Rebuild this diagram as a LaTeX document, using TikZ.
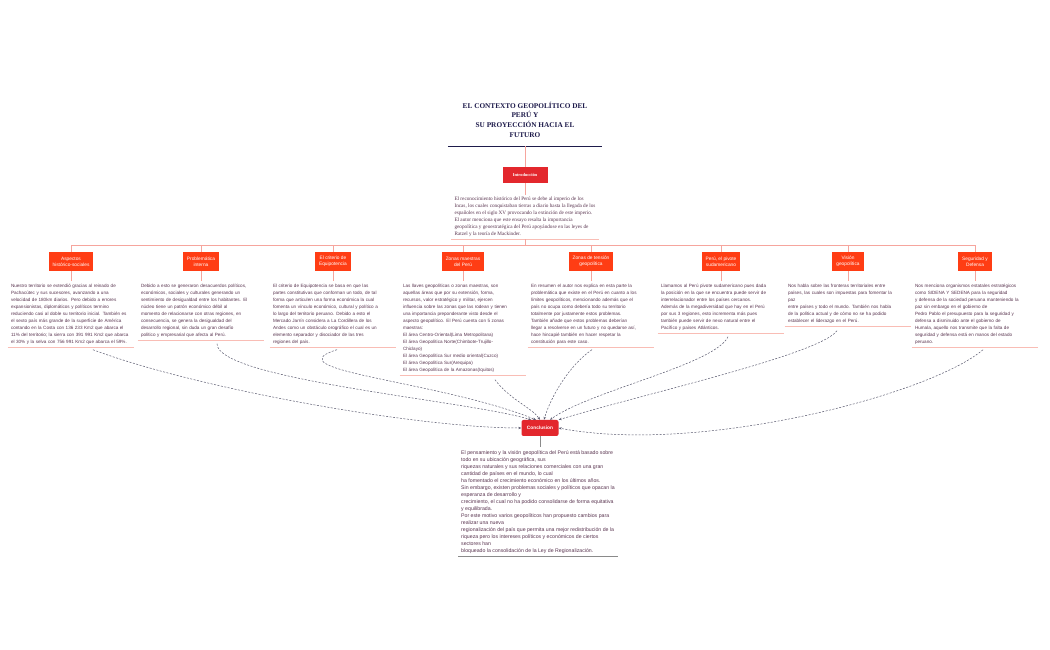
\documentclass[tikz,border=0pt]{standalone}
\usepackage{fontspec}
\setmainfont{Liberation Serif}
\setsansfont{Liberation Sans}
\usepackage{xcolor}
\usepackage{tikz}
\usetikzlibrary{arrows.meta,calc}
\definecolor{geonavy}{HTML}{1E1B4B}
\definecolor{geored}{HTML}{E3272D}
\definecolor{geoorange}{HTML}{FF3D14}
\definecolor{geopink}{HTML}{F6A59D}
\definecolor{georule}{HTML}{F9BDB5}
\definecolor{geotext}{HTML}{5A3550}
\definecolor{geodash}{HTML}{5B5B70}
\definecolor{geogray}{HTML}{8A8A8A}

\tikzset{
  topicbox/.style={fill=geoorange, text=white, align=center, inner xsep=4pt,
    minimum height=19pt, font=\sffamily\fontsize{4.8}{6.2}\selectfont},
  notetext/.style={anchor=north, text width=120pt, align=left, inner xsep=3pt,
    inner ysep=3pt, text=geotext, font=\sffamily\fontsize{4.6}{7}\selectfont},
  busline/.style={geopink, line width=0.6pt},
  noterule/.style={georule, line width=0.9pt},
  link/.style={geodash, dash pattern=on 2pt off 1.5pt, line width=0.5pt,
    -{Stealth[length=3pt,width=2.4pt]}},
}

\begin{document}
\begin{tikzpicture}[x=1pt,y=1pt]
  \fill[white] (0,0) rectangle (1050,650);
  \useasboundingbox (0,0) rectangle (1050,650);

  % title and introduction
  \node[align=center, inner sep=0pt, minimum width=154pt, text=geonavy,
    font=\bfseries\fontsize{7.3}{9.7}\selectfont] (title) at (525,530.5)
    {EL CONTEXTO GEOPOLÍTICO DEL\\PERÚ Y\\SU PROYECCIÓN HACIA EL\\FUTURO};
  \draw[geonavy, line width=1.3pt] ([yshift=-9pt]title.south west) -- ([yshift=-9pt]title.south east);

  \node[fill=geored, text=white, minimum width=45pt, minimum height=16pt, inner sep=0pt,
    font=\bfseries\fontsize{4.4}{5}\selectfont] (intro) at (525,475) {Introducción};
  \draw[busline] ([yshift=-9pt]title.south) -- (intro);

  \node[anchor=north, align=left, inner xsep=3pt, inner ysep=2pt, text=geotext,
    font=\fontsize{5.2}{7}\selectfont] (introTxt) at (525,455)
    {El reconocimiento histórico del Perú se debe al imperio de los\\
     Incas, los cuales conquistaban tierras a diario hasta la llegada de los\\
     españoles en el siglo XV provocando la extinción de este imperio.\\
     El autor menciona que este ensayo resalta la importancia\\
     geopolítica y geoestratégica del Perú apoyándose en las leyes de\\
     Ratzel y la teoría de Mackinder.};
  \draw[busline] (intro) -- (introTxt);
  \draw[noterule] (introTxt.south west) -- (introTxt.south east);

  % topic boxes
  \node[topicbox] (aspBox) at (71,388.5) {Aspectos\\histórico-sociales};
  \node[topicbox] (probBox) at (201,388.5) {Problemática\\interna};
  \node[topicbox] (critBox) at (333,388.5) {El criterio de\\Equipotencia};
  \node[topicbox] (zonBox) at (463,388.5) {Zonas maestras\\del Perú};
  \node[topicbox] (tenBox) at (591,388.5) {Zonas de tensión\\geopolítica};
  \node[topicbox] (pivBox) at (721,388.5) {Perú, el pivote\\sudamericano};
  \node[topicbox] (visBox) at (848,388.5) {Visión\\geopolítica};
  \node[topicbox] (segBox) at (975,388.5) {Seguridad y\\Defensa};

  \draw[busline] (introTxt.south) -- ++(0,-6) coordinate (busMid);
  \draw[busline] (aspBox.north |- busMid) -- (segBox.north |- busMid);
  \foreach \b in {aspBox,probBox,critBox,zonBox,tenBox,pivBox,visBox,segBox}
    \draw[busline] (\b.north |- busMid) -- (\b.north);

  % topic texts
  \node[notetext] (aspTxt) at (71,369)
    {Nuestro territorio se extendió gracias al reinado de\\
     Pachacútec y sus sucesores, avanzando a una\\
     velocidad de 180km diarios. Pero debido a errores\\
     expansionistas, diplomáticos y políticos termino\\
     reduciendo casi al doble su territorio inicial. También es\\
     el sexto país más grande de la superficie de América\\
     contando en la Costa con 136 233 Km2 que abarca el\\
     11\% del territorio; la sierra con 391 991 Km2 que abarca\\
     el 30\% y la selva con 756 991 Km2 que abarca el 59\%.};
  \node[notetext] (probTxt) at (201,369)
    {Debido a esto se generaron desacuerdos políticos,\\
     económicos, sociales y culturales generando un\\
     sentimiento de desigualdad entre los habitantes. El\\
     núcleo tiene un patrón económico débil al\\
     momento de relacionarse con otras regiones, en\\
     consecuencia, se genera la desigualdad del\\
     desarrollo regional, sin duda un gran desafío\\
     político y empresarial que afecta al Perú.};
  \node[notetext] (critTxt) at (333,369)
    {El criterio de Equipotencia se basa en que las\\
     partes constitutivas que conforman un todo, de tal\\
     forma que articulen una forma económica la cual\\
     fomenta un vínculo económico, cultural y político a\\
     lo largo del territorio peruano. Debido a esto el\\
     Mercado Jarrín considera a La Cordillera de los\\
     Andes como un obstáculo orográfico el cual es un\\
     elemento separador y disociador de las tres\\
     regiones del país.};
  \node[notetext] (zonTxt) at (463,369)
    {Las llaves geopolíticas o zonas maestras, son\\
     aquellas áreas que por su extensión, forma,\\
     recursos, valor estratégico y militar, ejercen\\
     influencia sobre las zonas que las rodean y tienen\\
     una importancia preponderante visto desde el\\
     aspecto geopolítico. El Perú cuenta con 5 zonas\\
     maestras:\\
     *El área Centro-Oriental(Lima Metropolitana)\\
     * El área Geopolítica Norte(Chimbote-Trujillo-\\
     Chiclayo)\\
     *El área Geopolítica Sur medio oriental(Cuzco)\\
     *El área Geopolítica Sur(Arequipa)\\
     *El área Geopolítica de la Amazonas(Iquitos)};
  \node[notetext] (tenTxt) at (591,369)
    {En resumen el autor nos explica en esta parte la\\
     problemática que existe en el Perú en cuanto a los\\
     límites geopolíticos, mencionando además que el\\
     país no ocupa como debería todo su territorio\\
     totalmente por justamente estos problemas.\\
     También añade que estos problemas deberían\\
     llegar a resolverse en un futuro y no quedarse así,\\
     hace hincapié también en hacer respetar la\\
     constitución para este caso.};
  \node[notetext] (pivTxt) at (721,369)
    {Llamamos al Perú pivote sudamericano pues dada\\
     la posición en la que se encuentra puede servir de\\
     interrelacionador entre los países cercanos.\\
     Además de la megadiversidad que hay en el Perú\\
     por sus 3 regiones, esto incrementa más pues\\
     también puede servir de nexo natural entre el\\
     Pacífico y países Atlánticos.};
  \node[notetext] (visTxt) at (848,369)
    {Nos habla sobre las fronteras territoriales entre\\
     países, las cuales son impuestas para fomentar la\\
     paz\\
     entre países y todo el mundo. También nos habla\\
     de la política actual y de cómo no se ha podido\\
     establecer el liderazgo en el Perú.};
  \node[notetext] (segTxt) at (975,369)
    {Nos menciona organismos estatales estratégicos\\
     como SIDENA Y SEDENA para la seguridad\\
     y defensa de la sociedad peruana manteniendo la\\
     paz sin embargo en el gobierno de\\
     Pedro Pablo el presupuesto para la seguridad y\\
     defensa a disminuido ante el gobierno de\\
     Humala, aquello nos transmite que la falta de\\
     seguridad y defensa está en manos del estado\\
     peruano.};

  \foreach \t/\b in {aspTxt/aspBox,probTxt/probBox,critTxt/critBox,zonTxt/zonBox,
      tenTxt/tenBox,pivTxt/pivBox,visTxt/visBox,segTxt/segBox} {
    \draw[busline] (\b) -- (\t);
    \draw[noterule] (\t.south west) -- (\t.south east);
  }

  % conclusion
  \node[fill=geored, text=white, rounded corners=2pt, minimum width=37pt, minimum height=16pt,
    inner sep=0pt, font=\sffamily\bfseries\fontsize{4.8}{5}\selectfont] (concl) at (540,222) {Conclusion};
  \node[anchor=north west, align=left, inner xsep=3pt, inner ysep=3pt, text=geotext,
    font=\sffamily\fontsize{5.2}{7}\selectfont] (conclTxt) at (458,203)
    {El pensamiento y la visión geopolítica del Perú está basado sobre\\
     todo en su ubicación geográfica, sus\\
     riquezas naturales y sus relaciones comerciales con una gran\\
     cantidad de países en el mundo, lo cual\\
     ha fomentado el crecimiento económico en los últimos años.\\
     Sin embargo, existen problemas sociales y políticos que opacan la\\
     esperanza de desarrollo y\\
     crecimiento, el cual no ha podido consolidarse de forma equitativa\\
     y equilibrada.\\
     Por este motivo varios geopolíticos han propuesto cambios para\\
     realizar una nueva\\
     regionalización del país que permita una mejor redistribución de la\\
     riqueza pero los intereses políticos y económicos de ciertos\\
     sectores han\\
     bloqueado la consolidación de la Ley de Regionalización.};
  \draw[geogray, line width=0.6pt] (concl) -- (concl.south |- conclTxt.north);
  \draw[geogray, line width=0.7pt] (conclTxt.south west) -- (conclTxt.south east);

  % dashed links into the conclusion
  \draw[link] ([xshift=22pt,yshift=-2pt]aspTxt.south) .. controls +(107,-40) and +(-102,0) .. (concl.west);
  \draw[link] ([xshift=16pt,yshift=-3pt]probTxt.south) .. controls +(0,-36) and +(-61,19) .. ([xshift=-9pt]concl.north);
  \draw[link] ([xshift=4pt,yshift=-2pt]critTxt.south) .. controls +(-67,-21) and +(-96,39) .. ([xshift=-4pt]concl.north);
  \draw[link] ([xshift=32pt,yshift=-4pt]zonTxt.south) .. controls +(15,-20) and +(-8,12) .. (concl.north);
  \draw[link] ([xshift=1pt,yshift=-2pt]tenTxt.south) .. controls +(-22,-15) and +(7,24) .. ([xshift=4pt]concl.north);
  \draw[link] ([xshift=7pt,yshift=-3pt]pivTxt.south) .. controls +(-13,-28) and +(40,29) .. ([xshift=10pt]concl.north);
  \draw[link] ([xshift=-11pt,yshift=-4pt]visTxt.south) .. controls +(-17,-24) and +(81,25) .. (concl.north east);
  \draw[link] ([xshift=8pt,yshift=-2pt]segTxt.south) .. controls +(-53,-45) and +(141,-27) .. (concl.east);
\end{tikzpicture}
\end{document}
